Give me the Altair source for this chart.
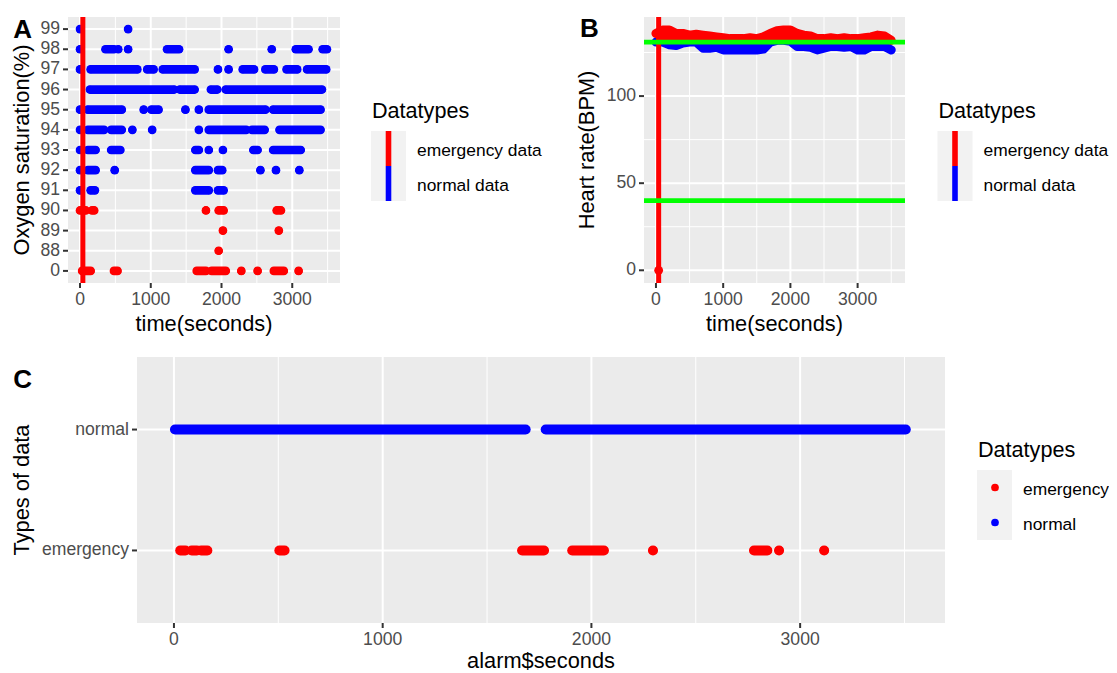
import altair as alt
import pandas as pd

FONT = "Liberation Sans, Arial, sans-serif"
RED, BLUE, GREEN = "#FF0000", "#0000FF", "#00FF00"
PANEL_BG, KEY_BG, TICK_C, LABEL_C = "#EBEBEB", "#F2F2F2", "#333333", "#4D4D4D"
TICK_FS, TITLE_FS, LEG_TITLE_FS, LEG_FS, TAG_FS = 17.6, 21.8, 21.6, 17.4, 26

# ---------------- Panel A: oxygen saturation (runs of readings: start, end seconds)
o2_levels = ["99", "98", "97", "96", "95", "94", "93", "92", "91", "90", "89", "88", "0"]
o2_emergency_levels = ["90", "89", "88", "0"]
o2_99 = [(0, 0), (680, 680)]
o2_98 = [(0, 0), (360, 480), (540, 540), (680, 680), (1230, 1400), (2100, 2100), (2710, 2710), (3050, 3230), (3430, 3490)]
o2_97 = [(0, 0), (150, 810), (950, 1040), (1170, 1620), (1950, 1950), (2100, 2100), (2300, 2460), (2620, 2740), (2920, 3070), (3210, 3480)]
o2_96 = [(140, 1330), (1410, 1620), (1850, 1940), (2060, 3420)]
o2_95 = [(0, 0), (110, 590), (900, 900), (1010, 1110), (1490, 1490), (1680, 1680), (1820, 2620), (2730, 3400)]
o2_94 = [(0, 0), (110, 340), (440, 590), (740, 740), (1020, 1020), (1680, 1680), (1820, 2350), (2430, 2610), (2820, 3400)]
o2_93 = [(0, 0), (110, 220), (440, 570), (1630, 1680), (1820, 1820), (2020, 2020), (2450, 2510), (2730, 3120)]
o2_92 = [(0, 0), (110, 220), (490, 490), (1630, 1820), (1950, 2010), (2550, 2550), (2770, 2770), (3100, 3100)]
o2_91 = [(0, 0), (150, 210), (1630, 1820), (1950, 2030)]
o2_90 = [(0, 80), (170, 200), (1780, 1780), (1960, 2030), (2780, 2840)]
o2_89 = [(2020, 2020), (2810, 2810)]
o2_88 = [(1960, 1960)]
o2_0 = [(30, 150), (480, 530), (1650, 1780), (1860, 2060), (2280, 2280), (2510, 2510), (2740, 2880), (3090, 3090)]
o2_runs = [o2_99, o2_98, o2_97, o2_96, o2_95, o2_94, o2_93, o2_92, o2_91, o2_90, o2_89, o2_88, o2_0]

alarm_time = [40]  # emergency vertical marker (seconds)

# ---------------- Panel B: heart rate envelopes sampled every 100 s
hr_time = list(range(0, 3600, 100))
hr_high = [136, 138, 138, 136, 136, 135, 135.5, 135, 134.5, 134, 133.5, 133, 133, 133, 133.5, 133,
           134, 136, 137.5, 138, 138, 136, 135, 134.5, 133, 133, 133.5, 133, 133.5, 133, 133, 133.5,
           134, 135, 134.5, 132]
hr_low = [131, 131, 129.5, 129, 130.5, 131, 131, 127.5, 127.5, 128, 126.5, 126.5, 126.5, 126.5, 126.5,
          126.5, 127, 131, 132, 132, 131.5, 128.5, 128.5, 128, 126.5, 127.5, 128.5, 128.5, 128, 128.5,
          126.5, 126.5, 128.5, 128.5, 128.5, 126.5]
hr_zero_time = [40]
hr_zero_value = [0]
hr_thresholds = [40, 131]

# ---------------- Panel C: alarm types (runs of readings: start, end seconds)
c_types = ["normal", "emergency"]
c_normal = [(5, 1685), (1781, 3506)]
c_emergency = [(30, 55), (85, 110), (130, 160), (505, 530), (1668, 1773), (1908, 2060), (2295, 2295),
               (2779, 2843), (2899, 2899), (3115, 3115)]

legend_title = "Datatypes"
legend_line_labels = ["emergency data", "normal data"]
legend_point_labels = ["emergency", "normal"]
legend_colors = [RED, BLUE]

x_ticks = [0, 1000, 2000, 3000]
x_minor = [500, 1500, 2500, 3500]
hr_ticks = [0, 50, 100]
hr_minor = [25, 75, 125]

color_scale = alt.Scale(domain=["emergency", "normal"], range=[RED, BLUE])


def V(v):  # page pixel -> chart pixel (page margin 8)
    return alt.value(v - 8)


def X(f, sc):
    return alt.X(f, scale=sc, axis=None)


def Y(f, sc):
    return alt.Y(f, scale=sc, axis=None)


def df(**cols):
    return alt.Chart(pd.DataFrame(cols))


def one(**cols):
    return df(**{k: [v] for k, v in cols.items()})


def text(s, x, y, fs, align="left", baseline="alphabetic", color="black", weight="normal", angle=0):
    kw = dict(font=FONT, fontSize=fs, align=align, baseline=baseline, color=color, fontWeight=weight)
    if angle:
        kw["angle"] = angle
    return one(t=s).mark_text(**kw).encode(text="t:N", x=V(x), y=V(y))


def legend(kind, rx, ry, labels):
    layers = [
        text(legend_title, rx + 1, ry - 13.5, LEG_TITLE_FS),
        one(a=0).mark_rect(color=KEY_BG).encode(x=V(rx), x2=V(rx + 35), y=V(ry), y2=V(ry + 70)),
    ]
    for i, (lab, col) in enumerate(zip(labels, legend_colors)):
        yc = ry + 17.5 + 35 * i
        if kind == "line":
            layers.append(one(a=0).mark_rule(color=col, strokeWidth=5.6).encode(
                x=V(rx + 17.5), y=V(yc - 17.5), y2=V(yc + 17.5)))
        else:
            layers.append(one(a=0).mark_circle(color=col, opacity=1, size=59).encode(
                x=V(rx + 18), y=V(yc)))
        layers.append(text(lab, rx + 46, yc + 7.2, LEG_FS))
    return layers


def frame(x0, x1, y0, y1, xs, ys, xticks, xminor, yvals, yfield, ylabel_field, yminor=None):
    """Panel background, grid, ticks and tick labels drawn through the panel's scales."""
    L = [one(a=0).mark_rect(color=PANEL_BG).encode(x=V(x0), x2=V(x1), y=V(y0), y2=V(y1))]
    L.append(df(m=xminor).mark_rule(color="white", strokeWidth=1).encode(x=X("m:Q", xs), y=V(y0), y2=V(y1)))
    if yminor:
        L.append(df(m=yminor).mark_rule(color="white", strokeWidth=1).encode(y=Y("m:Q", ys), x=V(x0), x2=V(x1)))
    L.append(df(m=xticks).mark_rule(color="white", strokeWidth=2).encode(x=X("m:Q", xs), y=V(y0), y2=V(y1)))
    L.append(df(m=yvals).mark_rule(color="white", strokeWidth=2).encode(y=Y(yfield, ys), x=V(x0), x2=V(x1)))
    # ticks
    L.append(df(m=xticks).mark_rule(color=TICK_C, strokeWidth=2).encode(x=X("m:Q", xs), y=V(y1), y2=V(y1 + 5)))
    L.append(df(m=yvals).mark_rule(color=TICK_C, strokeWidth=2).encode(y=Y(yfield, ys), x=V(x0 - 5), x2=V(x0)))
    # tick labels
    L.append(df(m=xticks).mark_text(font=FONT, fontSize=TICK_FS, color=LABEL_C, align="center",
                                    baseline="alphabetic").encode(
        x=X("m:Q", xs), y=V(y1 + 21.5), text=alt.Text("m:Q", format="d")))
    L.append(df(m=yvals).mark_text(font=FONT, fontSize=TICK_FS, color=LABEL_C, align="right",
                                   baseline="middle").encode(
        y=Y(yfield, ys), x=V(x0 - 8), text=ylabel_field))
    return L


# ================= Panel A (page px: x 68-340, y 17-283)
A = dict(x0=68, x1=340, y0=17, y1=283)
xA = alt.Scale(domain=[-170, 3675], range=[A["x0"] - 8, A["x1"] - 8], nice=False, zero=False)
yA = alt.Scale(type="point", domain=o2_levels, range=[A["y0"] - 8, A["y1"] - 8], padding=0.6)
rowsA = []
for lev, rr in zip(o2_levels, o2_runs):
    for s, e in rr:
        rowsA.append({"level": lev, "start": s, "end": e,
                      "type": "emergency" if lev in o2_emergency_levels else "normal"})
dfA = pd.DataFrame(rowsA)
baseA = alt.Chart(dfA).encode(y=Y("level:O", yA), color=alt.Color("type:N", scale=color_scale, legend=None))
layersA = frame(A["x0"], A["x1"], A["y0"], A["y1"], xA, yA, x_ticks, x_minor, o2_levels, "m:O", "m:N")
layersA += [
    baseA.mark_rule(strokeWidth=8.7, strokeCap="round").encode(x=X("start:Q", xA), x2="end:Q"),
    baseA.mark_circle(size=59, opacity=1).encode(x=X("start:Q", xA)),
    baseA.mark_circle(size=59, opacity=1).encode(x=X("end:Q", xA)),
    df(t=alarm_time).mark_rule(color=RED, strokeWidth=5).encode(x=X("t:Q", xA), y=V(A["y0"]), y2=V(A["y1"])),
    text("time(seconds)", (A["x0"] + A["x1"]) / 2, 330.5, TITLE_FS, align="center"),
    text("Oxygen saturation(%)", 28.9, (A["y0"] + A["y1"]) / 2, TITLE_FS, align="center", angle=270),
    text("A", 13.3, 38.3, TAG_FS, weight="bold"),
] + legend("line", 371, 131, legend_line_labels)
panelA = alt.layer(*layersA)

# ================= Panel B (page px: x 644-905, y 17-283)
B = dict(x0=644, x1=905, y0=17, y1=283)
xB = alt.Scale(domain=[-178, 3705], range=[B["x0"] - 8, B["x1"] - 8], nice=False, zero=False)
yB = alt.Scale(domain=[-7.3, 145.4], range=[B["y1"] - 8, B["y0"] - 8], nice=False, zero=False)
dfB = pd.DataFrame({"t": hr_time, "hi": hr_high, "lo": hr_low, "mid": [hr_thresholds[1]] * len(hr_time)})
baseB = alt.Chart(dfB).encode(x=X("t:Q", xB))
layersB = frame(B["x0"], B["x1"], B["y0"], B["y1"], xB, yB, x_ticks, x_minor, hr_ticks, "m:Q",
                alt.Text("m:Q", format="d"), yminor=hr_minor)
layersB += [
    baseB.mark_area(color=BLUE, opacity=1).encode(y=Y("lo:Q", yB), y2="mid:Q"),
    baseB.mark_line(color=BLUE, strokeWidth=9, strokeCap="round", strokeJoin="round").encode(y=Y("lo:Q", yB)),
    baseB.mark_area(color=RED, opacity=1).encode(y=Y("mid:Q", yB), y2="hi:Q"),
    baseB.mark_line(color=RED, strokeWidth=9, strokeCap="round", strokeJoin="round").encode(y=Y("hi:Q", yB)),
    df(t=hr_zero_time, v=hr_zero_value).mark_circle(color=RED, size=78, opacity=1).encode(
        x=X("t:Q", xB), y=Y("v:Q", yB)),
    df(t=alarm_time).mark_rule(color=RED, strokeWidth=5).encode(x=X("t:Q", xB), y=V(B["y0"]), y2=V(B["y1"])),
    df(h=hr_thresholds).mark_rule(color=GREEN, strokeWidth=4.7).encode(y=Y("h:Q", yB), x=V(B["x0"]), x2=V(B["x1"])),
    text("time(seconds)", (B["x0"] + B["x1"]) / 2, 330.5, TITLE_FS, align="center"),
    text("Heart rate(BPM)", 594, (B["y0"] + B["y1"]) / 2, TITLE_FS, align="center", angle=270),
    text("B", 580, 37, TAG_FS, weight="bold"),
] + legend("line", 937.5, 131, legend_line_labels)
panelB = alt.layer(*layersB)

# ================= Panel C (page px: x 137-945, y 357-623)
C = dict(x0=137, x1=945, y0=357, y1=623)
xC = alt.Scale(domain=[-177, 3694], range=[C["x0"] - 8, C["x1"] - 8], nice=False, zero=False)
yC = alt.Scale(type="point", domain=c_types, range=[C["y0"] - 8, C["y1"] - 8], padding=0.6)
rowsC = [{"level": "normal", "start": s, "end": e, "type": "normal"} for s, e in c_normal]
rowsC += [{"level": "emergency", "start": s, "end": e, "type": "emergency"} for s, e in c_emergency]
dfC = pd.DataFrame(rowsC)
baseC = alt.Chart(dfC).encode(y=Y("level:N", yC), color=alt.Color("type:N", scale=color_scale, legend=None))
layersC = frame(C["x0"], C["x1"], C["y0"], C["y1"], xC, yC, x_ticks, x_minor, c_types, "m:N", "m:N")
layersC += [
    baseC.mark_rule(strokeWidth=10, strokeCap="round").encode(x=X("start:Q", xC), x2="end:Q"),
    baseC.mark_circle(size=78, opacity=1).encode(x=X("start:Q", xC)),
    baseC.mark_circle(size=78, opacity=1).encode(x=X("end:Q", xC)),
    text("alarm$seconds", (C["x0"] + C["x1"]) / 2, 668, TITLE_FS, align="center"),
    text("Types of data", 28.9, (C["y0"] + C["y1"]) / 2, TITLE_FS, align="center", angle=270),
    text("C", 13.3, 388, TAG_FS, weight="bold"),
] + legend("point", 977, 470, legend_point_labels)
panelC = alt.layer(*layersC)

chart = alt.layer(panelA, panelB, panelC).resolve_scale(
    x="independent", y="independent"
).properties(
    width=1101, height=665, padding=0, autosize=alt.AutoSizeParams(type="none")
).configure_view(strokeWidth=0)

chart.save("out.html", embed_options={"renderer": "svg", "actions": False})
